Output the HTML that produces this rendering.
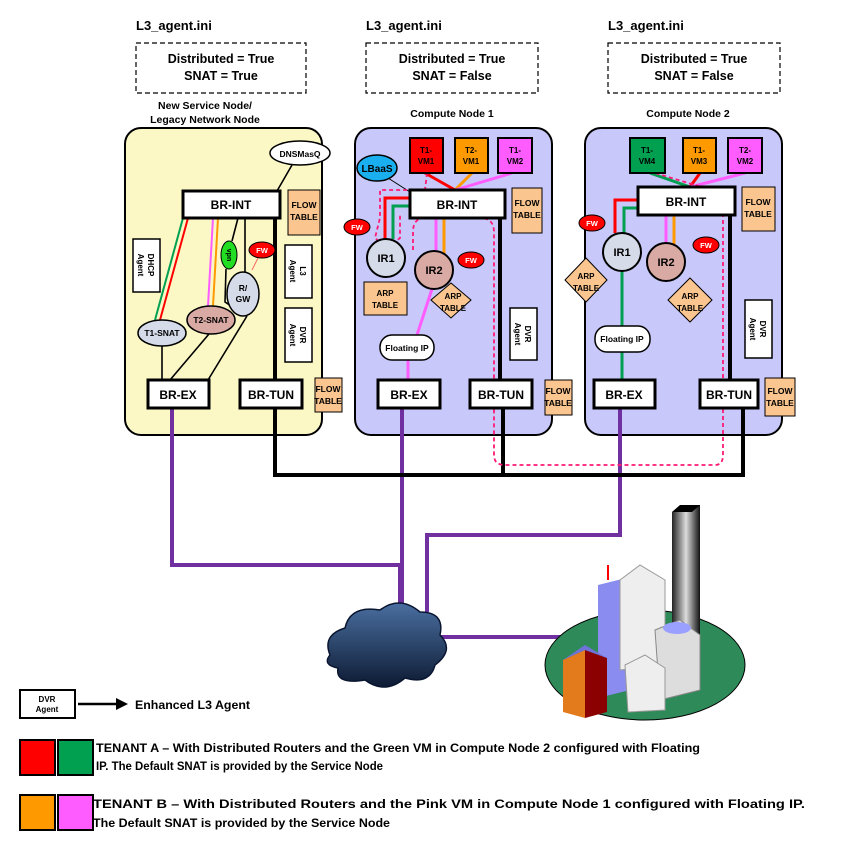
<!DOCTYPE html>
<html><head><meta charset="utf-8"><style>
body{margin:0;background:#fff}
svg{display:block;font-family:"Liberation Sans",sans-serif;font-weight:bold}
text{font-weight:bold}
</style></head><body>
<svg width="860" height="851" viewBox="0 0 860 851">
<defs>
<linearGradient id="cl" x1="0" y1="0" x2="0" y2="1"><stop offset="0" stop-color="#4a6fa0"/><stop offset="1" stop-color="#0d1a33"/></linearGradient>
<linearGradient id="tw" x1="0" y1="0" x2="1" y2="0"><stop offset="0" stop-color="#222"/><stop offset=".5" stop-color="#ddd"/><stop offset="1" stop-color="#111"/></linearGradient>
</defs>

<g font-size="13" fill="#000">
<text x="136" y="30">L3_agent.ini</text>
<text x="366" y="30">L3_agent.ini</text>
<text x="608" y="30">L3_agent.ini</text>
</g>
<g fill="#fff" stroke="#000" stroke-dasharray="5,3" stroke-width="1.2">
<rect x="136" y="43" width="170" height="50"/>
<rect x="366" y="43" width="172" height="50"/>
<rect x="608" y="43" width="172" height="50"/>
</g>
<g font-size="12.5" text-anchor="middle">
<text x="221" y="63">Distributed  = True</text><text x="221" y="80">SNAT = True</text>
<text x="452" y="63">Distributed  = True</text><text x="452" y="80">SNAT = False</text>
<text x="694" y="63">Distributed  = True</text><text x="694" y="80">SNAT = False</text>
</g>
<g font-size="10.5" text-anchor="middle">
<text x="205" y="109">New Service Node/</text><text x="205" y="123">Legacy Network Node</text>
<text x="452" y="117">Compute Node 1</text><text x="688" y="117">Compute Node 2</text>
</g>

<rect x="125" y="128" width="197" height="307" rx="16" fill="#fbf8c6" stroke="#000" stroke-width="2"/>
<rect x="355" y="128" width="197" height="307" rx="16" fill="#c8c8fa" stroke="#000" stroke-width="2"/>
<rect x="585" y="128" width="197" height="307" rx="16" fill="#c8c8fa" stroke="#000" stroke-width="2"/>

<g stroke="#7030a0" stroke-width="4" fill="none">
<polyline points="172,408 172,565 400,565 400,612"/>
<polyline points="402,408 402,612"/>
<polyline points="620,408 620,535 427,535 427,612"/>
<polyline points="440,637 585,637"/>
</g>
<g stroke="#000" stroke-width="4" fill="none">
<polyline points="275,408 275,475 743,475 743,408"/>
<line x1="503" y1="408" x2="503" y2="475"/>
<line x1="275" y1="218" x2="275" y2="380"/>
<line x1="500" y1="218" x2="500" y2="380"/>
<line x1="730" y1="215" x2="730" y2="380"/>
</g>

<g stroke="#000" stroke-width="1.6" fill="none">
<line x1="292" y1="165" x2="277" y2="191"/>
<line x1="162" y1="346" x2="162" y2="380"/>
<line x1="209" y1="334" x2="170" y2="380"/>
<line x1="247" y1="316" x2="208" y2="380"/>
<line x1="238" y1="218" x2="232" y2="241"/>
<line x1="245" y1="218" x2="245" y2="272"/>
<polyline points="226,269 225,302 240,312"/>
</g>
<line x1="183" y1="218" x2="155" y2="320" stroke="#00a050" stroke-width="2"/>
<line x1="188" y1="218" x2="160" y2="320" stroke="#f00" stroke-width="2"/>
<line x1="213" y1="218" x2="208" y2="306" stroke="#ff5cff" stroke-width="2"/>
<line x1="218" y1="218" x2="213" y2="306" stroke="#ff9900" stroke-width="2"/>
<line x1="252" y1="270" x2="258" y2="258" stroke="#f66" stroke-width="1"/>

<g fill="none" stroke-width="3">
<line x1="425" y1="173" x2="455" y2="190" stroke="#f00"/>
<line x1="472" y1="173" x2="455" y2="190" stroke="#ff9900"/>
<line x1="512" y1="173" x2="455" y2="190" stroke="#ff5cff"/>
<polyline points="410,198 385,198 385,239" stroke="#f00"/>
<polyline points="410,206 393,206 393,239" stroke="#00a050"/>
<line x1="436" y1="218" x2="436" y2="251" stroke="#ff5cff"/>
<line x1="444" y1="218" x2="444" y2="254" stroke="#ff9900"/>
<polyline points="432,289 417,335" stroke="#ff5cff"/>
<line x1="408" y1="360" x2="408" y2="380" stroke="#ff5cff"/>
</g>
<g fill="none" stroke-width="3">
<line x1="650" y1="173" x2="690" y2="187" stroke="#00a050"/>
<line x1="700" y1="173" x2="690" y2="187" stroke="#f00"/>
<line x1="745" y1="173" x2="690" y2="187" stroke="#ff5cff"/>
<polyline points="638,200 615,200 615,233" stroke="#f00"/>
<polyline points="638,208 624,208 624,233" stroke="#00a050"/>
<line x1="666" y1="215" x2="666" y2="243" stroke="#ff5cff"/>
<line x1="674" y1="215" x2="674" y2="245" stroke="#ff9900"/>
<line x1="622" y1="271" x2="622" y2="326" stroke="#00a050"/>
<line x1="622" y1="352" x2="622" y2="380" stroke="#00a050"/>
</g>
<line x1="388" y1="178" x2="410" y2="192" stroke="#000" stroke-width="1"/>

<g fill="none" stroke="#ff1a75" stroke-width="1.8" stroke-dasharray="4,3">
<polyline points="427,173 425,190 380,190 380,218 375,238 387,248 400,238 400,215"/>
<path d="M413,250 L413,232 Q413,218 425,218 L480,218 Q494,218 494,232 L494,455 Q494,465 505,465 L715,465 Q723,465 723,455 L723,220 Q723,195 705,188 L655,173"/>
</g>

<g fill="#fff" stroke="#000" stroke-width="3">
<rect x="183" y="191" width="97" height="27"/>
<rect x="148" y="380" width="61" height="28"/>
<rect x="240" y="380" width="62" height="28"/>
<rect x="410" y="190" width="95" height="28"/>
<rect x="378" y="380" width="62" height="28"/>
<rect x="470" y="380" width="62" height="28"/>
<rect x="638" y="187" width="97" height="28"/>
<rect x="594" y="380" width="61" height="28"/>
<rect x="700" y="380" width="58" height="28"/>
</g>
<g font-size="12" text-anchor="middle">
<text x="231" y="209">BR-INT</text><text x="178" y="399">BR-EX</text><text x="271" y="399">BR-TUN</text>
<text x="457" y="209">BR-INT</text><text x="409" y="399">BR-EX</text><text x="501" y="399">BR-TUN</text>
<text x="686" y="206">BR-INT</text><text x="624" y="399">BR-EX</text><text x="729" y="399">BR-TUN</text>
</g>

<g fill="#fac58f" stroke="#000" stroke-width="1">
<rect x="288" y="190" width="32" height="45"/><rect x="315" y="378" width="27" height="34"/>
<rect x="512" y="188" width="30" height="45"/><rect x="545" y="380" width="27" height="35"/>
<rect x="742" y="187" width="33" height="44"/><rect x="765" y="378" width="30" height="38"/>
</g>
<g font-size="8.5" text-anchor="middle">
<text x="304" y="208">FLOW</text><text x="304" y="220">TABLE</text>
<text x="328" y="392">FLOW</text><text x="328" y="404">TABLE</text>
<text x="527" y="206">FLOW</text><text x="527" y="218">TABLE</text>
<text x="558" y="394">FLOW</text><text x="558" y="406">TABLE</text>
<text x="758" y="205">FLOW</text><text x="758" y="217">TABLE</text>
<text x="780" y="394">FLOW</text><text x="780" y="406">TABLE</text>
</g>

<g fill="#fff" stroke="#000" stroke-width="1.5">
<rect x="133" y="239" width="27" height="53"/><rect x="285" y="245" width="27" height="53"/><rect x="285" y="308" width="27" height="54"/>
<rect x="510" y="308" width="27" height="52"/><rect x="745" y="300" width="27" height="58"/>
</g>
<g font-size="8" text-anchor="middle">
<text transform="translate(146,265) rotate(90)"><tspan x="0" y="-2">DHCP</tspan><tspan x="0" y="8">Agent</tspan></text>
<text transform="translate(298,271) rotate(90)"><tspan x="0" y="-2">L3</tspan><tspan x="0" y="8">Agent</tspan></text>
<text transform="translate(298,335) rotate(90)"><tspan x="0" y="-2">DVR</tspan><tspan x="0" y="8">Agent</tspan></text>
<text transform="translate(523,334) rotate(90)"><tspan x="0" y="-2">DVR</tspan><tspan x="0" y="8">Agent</tspan></text>
<text transform="translate(758,329) rotate(90)"><tspan x="0" y="-2">DVR</tspan><tspan x="0" y="8">Agent</tspan></text>
</g>

<ellipse cx="300" cy="153" rx="30" ry="12" fill="#fff" stroke="#000" stroke-width="1.5"/>
<text x="300" y="157" font-size="8.5" text-anchor="middle">DNSMasQ</text>
<ellipse cx="162" cy="333" rx="24" ry="13" fill="#d5dbe8" stroke="#000" stroke-width="1.5"/>
<text x="162" y="336" font-size="8.5" text-anchor="middle">T1-SNAT</text>
<ellipse cx="211" cy="320" rx="24" ry="14" fill="#d9a9a4" stroke="#000" stroke-width="1.5"/>
<text x="211" y="323" font-size="8.5" text-anchor="middle">T2-SNAT</text>
<ellipse cx="229" cy="255" rx="8" ry="14" fill="#22dd22" stroke="#000"/>
<text transform="translate(227,255) rotate(90)" font-size="7" text-anchor="middle">vpn</text>
<ellipse cx="243" cy="294" rx="16" ry="22" fill="#d5dbe8" stroke="#000" stroke-width="1.5"/>
<text x="243" y="291" font-size="8.5" text-anchor="middle">R/</text><text x="243" y="302" font-size="8.5" text-anchor="middle">GW</text>

<g fill="#f00" stroke="#000" stroke-width="1">
<ellipse cx="262" cy="250" rx="13" ry="8"/>
<ellipse cx="357" cy="227" rx="13" ry="8"/><ellipse cx="471" cy="260" rx="13" ry="8"/>
<ellipse cx="592" cy="223" rx="13" ry="8"/><ellipse cx="706" cy="245" rx="13" ry="8"/>
</g>
<g font-size="7.5" fill="#fff" text-anchor="middle">
<text x="262" y="253">FW</text><text x="357" y="230">FW</text><text x="471" y="263">FW</text><text x="592" y="226">FW</text><text x="706" y="248">FW</text>
</g>

<g stroke="#000" stroke-width="2">
<rect x="410" y="138" width="33" height="35" fill="#f00"/><rect x="455" y="138" width="33" height="35" fill="#ff9900"/><rect x="498" y="138" width="34" height="35" fill="#ff5cff"/>
<rect x="630" y="138" width="35" height="35" fill="#00a050"/><rect x="683" y="138" width="33" height="35" fill="#ff9900"/><rect x="728" y="138" width="34" height="35" fill="#ff5cff"/>
</g>
<g font-size="8" text-anchor="middle" font-weight="normal">
<text x="426" y="153">T1-</text><text x="426" y="164">VM1</text>
<text x="471" y="153">T2-</text><text x="471" y="164">VM1</text>
<text x="515" y="153">T1-</text><text x="515" y="164">VM2</text>
<text x="647" y="153">T1-</text><text x="647" y="164">VM4</text>
<text x="699" y="153">T1-</text><text x="699" y="164">VM3</text>
<text x="745" y="153">T2-</text><text x="745" y="164">VM2</text>
</g>
<ellipse cx="377" cy="168" rx="20" ry="13" fill="#1ab0f0" stroke="#000" stroke-width="1.5"/>
<text x="377" y="172" font-size="10" text-anchor="middle">LBaaS</text>

<circle cx="386" cy="258" r="19" fill="#d5dbe8" stroke="#000" stroke-width="2"/>
<circle cx="434" cy="270" r="19" fill="#d9a9a4" stroke="#000" stroke-width="2"/>
<circle cx="622" cy="252" r="19" fill="#d5dbe8" stroke="#000" stroke-width="2"/>
<circle cx="666" cy="262" r="19" fill="#d9a9a4" stroke="#000" stroke-width="2"/>
<g font-size="11" text-anchor="middle">
<text x="386" y="262">IR1</text><text x="434" y="274">IR2</text><text x="622" y="256">IR1</text><text x="666" y="266">IR2</text>
</g>

<g fill="#fac58f" stroke="#000" stroke-width="1">
<rect x="364" y="282" width="43" height="33"/>
<polygon points="451,283 471,300 451,318 431,300"/>
<polygon points="586,258 607,280 586,302 565,280"/>
<polygon points="690,278 712,300 690,322 668,300"/>
</g>
<g font-size="8" text-anchor="middle">
<text x="385" y="296">ARP</text><text x="385" y="308">TABLE</text>
<text x="453" y="299">ARP</text><text x="453" y="311">TABLE</text>
<text x="586" y="279">ARP</text><text x="586" y="291">TABLE</text>
<text x="690" y="299">ARP</text><text x="690" y="311">TABLE</text>
</g>

<rect x="380" y="335" width="54" height="25" rx="12" fill="#fff" stroke="#000" stroke-width="1.5"/>
<text x="407" y="351" font-size="8.5" text-anchor="middle">Floating IP</text>
<rect x="595" y="326" width="55" height="26" rx="12" fill="#fff" stroke="#000" stroke-width="1.5"/>
<text x="622" y="342" font-size="8.5" text-anchor="middle">Floating IP</text>

<g>
<path d="M330,655 Q322,635 345,628 Q350,605 380,610 Q400,595 420,612 Q445,612 440,635 Q455,650 435,665 Q430,685 405,678 Q385,695 365,680 Q335,685 338,668 Q322,665 330,655Z" fill="url(#cl)" stroke="#0a1630" stroke-width="1.5"/>
</g>

<g>
<ellipse cx="645" cy="665" rx="100" ry="55" fill="#2e8a58" stroke="#000"/>
<polygon points="672,512 700,505 700,660 672,668" fill="url(#tw)"/>
<polygon points="672,512 680,505 700,505 692,512" fill="#000"/>
<polygon points="598,585 630,577 630,690 598,698" fill="#8a8cf0"/>
<polygon points="630,577 645,583 645,686 630,690" fill="#6f72d8"/>
<polygon points="620,580 640,565 665,580 665,665 620,670" fill="#eee" stroke="#999"/>
<polygon points="655,630 680,620 700,635 700,690 660,700" fill="#ddd" stroke="#888"/>
<ellipse cx="677" cy="628" rx="14" ry="6" fill="#9aa0ff"/>
<polygon points="625,665 645,655 665,668 665,710 628,712" fill="#eee" stroke="#999"/>
<polygon points="563,660 585,650 585,718 563,712" fill="#e37a1c"/>
<polygon points="585,650 607,658 607,712 585,718" fill="#8b0000"/>
<polygon points="563,660 585,645 607,658 585,650" fill="#6f72d8"/>
<line x1="608" y1="565" x2="608" y2="580" stroke="#f00" stroke-width="2"/>
</g>

<g>
<rect x="20" y="690" width="55" height="28" fill="#fff" stroke="#000" stroke-width="2"/>
<text x="47" y="702" font-size="8" text-anchor="middle">DVR</text><text x="47" y="712" font-size="8" text-anchor="middle">Agent</text>
<line x1="78" y1="704" x2="118" y2="704" stroke="#000" stroke-width="2.5"/>
<polygon points="128,704 116,698 116,710" fill="#000"/>
<text x="135" y="709" font-size="12" textLength="115" lengthAdjust="spacingAndGlyphs">Enhanced L3 Agent</text>
<rect x="20" y="740" width="35" height="35" fill="#f00" stroke="#000" stroke-width="2"/>
<rect x="58" y="740" width="35" height="35" fill="#00a050" stroke="#000" stroke-width="2"/>
<text x="96" y="752" font-size="12" textLength="604" lengthAdjust="spacingAndGlyphs">TENANT A – With Distributed Routers and the Green VM in Compute Node 2 configured with Floating</text>
<text x="96" y="770" font-size="12" textLength="287" lengthAdjust="spacingAndGlyphs">IP. The Default SNAT is provided by the Service Node</text>
<rect x="20" y="795" width="35" height="35" fill="#ff9900" stroke="#000" stroke-width="2"/>
<rect x="58" y="795" width="35" height="35" fill="#ff5cff" stroke="#000" stroke-width="2"/>
<text x="93" y="808" font-size="12" textLength="712" lengthAdjust="spacingAndGlyphs">TENANT B – With Distributed Routers and the Pink VM in Compute Node 1 configured with Floating IP.</text>
<text x="93" y="827" font-size="12" textLength="297" lengthAdjust="spacingAndGlyphs">The Default SNAT is provided by the Service Node</text>
</g>
</svg>
</body></html>
